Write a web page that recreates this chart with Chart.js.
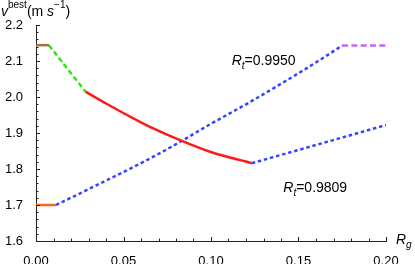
<!DOCTYPE html>
<html>
<head>
<meta charset="utf-8">
<script src="https://cdn.jsdelivr.net/npm/chart.js@4"></script>
<style>
body{margin:0;background:#fff;}
</style>
</head>
<body>
<canvas id="chart" width="415" height="264"></canvas>
<script>
// DATA

const brownX = [0, 0.0074];
const brownY = [2.144, 2.144];

const greenX = [0.0074, 0.0175, 0.0283];
const greenY = [2.144, 2.081, 2.015];

const redX = [0.0283, 0.04, 0.0594, 0.0651, 0.0833, 0.0994, 0.1233];
const redY = [2.015, 1.982, 1.931, 1.917, 1.878, 1.848, 1.816];

const orangeX = [0, 0.0114];
const orangeY = [1.70, 1.70];

const blueUpX = [0.0114, 0.0309, 0.0623, 0.0833, 0.0994, 0.1223, 0.1623, 0.1749];
const blueUpY = [1.700, 1.746, 1.822, 1.878, 1.924, 1.986, 2.103, 2.143];

const blueLowX = [0.1233, 0.2];
const blueLowY = [1.816, 1.922];

const purpleX = [0.1749, 0.2];
const purpleY = [2.143, 2.143];

const xTicks = [0, 0.05, 0.1, 0.15, 0.2];
const yTicks = [1.6, 1.7, 1.8, 1.9, 2.0, 2.1, 2.2];

const labelTop = "0.9950";
const labelLow = "0.9809";

// where the two R_t notes sit (data coords)
const notePos = [{x:0.1118, y:2.089, txt:labelTop}, {x:0.1413, y:1.735, txt:labelLow}];

const FONT = "'Liberation Sans', Arial, sans-serif";

function pts(xs, ys){
  return xs.map((x,i)=>({x:x, y:ys[i]}));
}

function line(xs, ys, color, dash){
  return {
    data: pts(xs, ys),
    borderColor: color,
    borderWidth: 2.5,
    borderDash: dash || [],
    borderCapStyle: "butt",
    pointRadius: 0,
    fill: false,
    cubicInterpolationMode: "monotone"
  };
}

// draw a piece of text with italics / sub / sup
function rich(ctx, x, y, parts){
  parts.forEach(p=>{
    const size = (p.sup || p.sub) ? 10 : 14;
    ctx.font = (p.it ? "italic " : "") + size + "px " + FONT;
    let dy = 0;
    if(p.sup) dy = -8;
    if(p.sub) dy = 4;
    ctx.fillText(p.t, x, y + dy);
    x += ctx.measureText(p.t).width;
  });
}

const extras = {
  id: "extras",
  afterDraw(chart){
    const ctx = chart.ctx;
    const xs = chart.scales.x;
    const ys = chart.scales.y;
    const area = chart.chartArea;

    // inward ticks
    ctx.save();
    ctx.strokeStyle = "#222";
    ctx.lineWidth = 1;
    ctx.beginPath();
    for(let i=0;i<=20;i++){
      const px = Math.round(xs.getPixelForValue(i/100)) + 0.5;
      const len = i%5==0 ? 4 : 2.5;
      ctx.moveTo(px, area.bottom);
      ctx.lineTo(px, area.bottom - len);
    }
    for(let i=0;i<=30;i++){
      const py = Math.round(ys.getPixelForValue(1.6 + i*0.02)) + 0.5;
      const len = i%5==0 ? 4 : 2.5;
      ctx.moveTo(area.left, py);
      ctx.lineTo(area.left + len, py);
    }
    ctx.stroke();

    ctx.fillStyle = "#000";
    ctx.textBaseline = "alphabetic";
    ctx.textAlign = "left";

    // axis titles
    rich(ctx, 1, 16, [{t:"v", it:true}, {t:"best", sup:true}, {t:"(m "}, {t:"s", it:true}, {t:"\u22121", sup:true}, {t:")"}]);
    rich(ctx, 396, 244, [{t:"R", it:true}, {t:"g", it:true, sub:true}]);

    // notes
    notePos.forEach(n=>{
      rich(ctx, xs.getPixelForValue(n.x), ys.getPixelForValue(n.y),
        [{t:"R", it:true}, {t:"t", it:true, sub:true}, {t:"=" + n.txt}]);
    });
    ctx.restore();
  }
};

const ctx = document.getElementById("chart");

new Chart(ctx, {
  type: "line",
  data: {
    datasets: [
      line(redX, redY, "#ff1a1a"),
      line(brownX, brownY, "#a0703c"),
      line(greenX, greenY, "#2ee614", [5, 3]),
      line(orangeX, orangeY, "#ff661a"),
      line(blueUpX, blueUpY, "#3346ff", [3.5, 2.8]),
      line(blueLowX, blueLowY, "#3346ff", [3.5, 2.8]),
      line(purpleX, purpleY, "#c865f5", [6, 3.3])
    ]
  },
  options: {
    responsive: false,
    animation: false,
    devicePixelRatio: 1,
    layout: {padding: {top: 25, right: 29, left: 0, bottom: 0}},
    plugins: {legend: {display: false}, tooltip: {enabled: false}},
    scales: {
      x: {
        type: "linear",
        min: 0, max: 0.2,
        afterBuildTicks: s => { s.ticks = xTicks.map(v=>({value:v})); },
        afterFit: s => { s.height = 23; },
        grid: {display: false},
        border: {display: true, color: "#222", width: 1},
        ticks: {
          padding: 5,
          color: "#000",
          font: {family: FONT, size: 13},
          callback: v => Number(v).toFixed(2)
        }
      },
      y: {
        type: "linear",
        min: 1.6, max: 2.2,
        afterBuildTicks: s => { s.ticks = yTicks.map(v=>({value:v})); },
        afterFit: s => { s.width = 36; },
        grid: {display: false},
        border: {display: true, color: "#222", width: 1},
        ticks: {
          padding: 5,
          color: "#000",
          font: {family: FONT, size: 13},
          callback: v => Number(v).toFixed(1)
        }
      }
    }
  },
  plugins: [extras]
});
</script>
</body>
</html>
